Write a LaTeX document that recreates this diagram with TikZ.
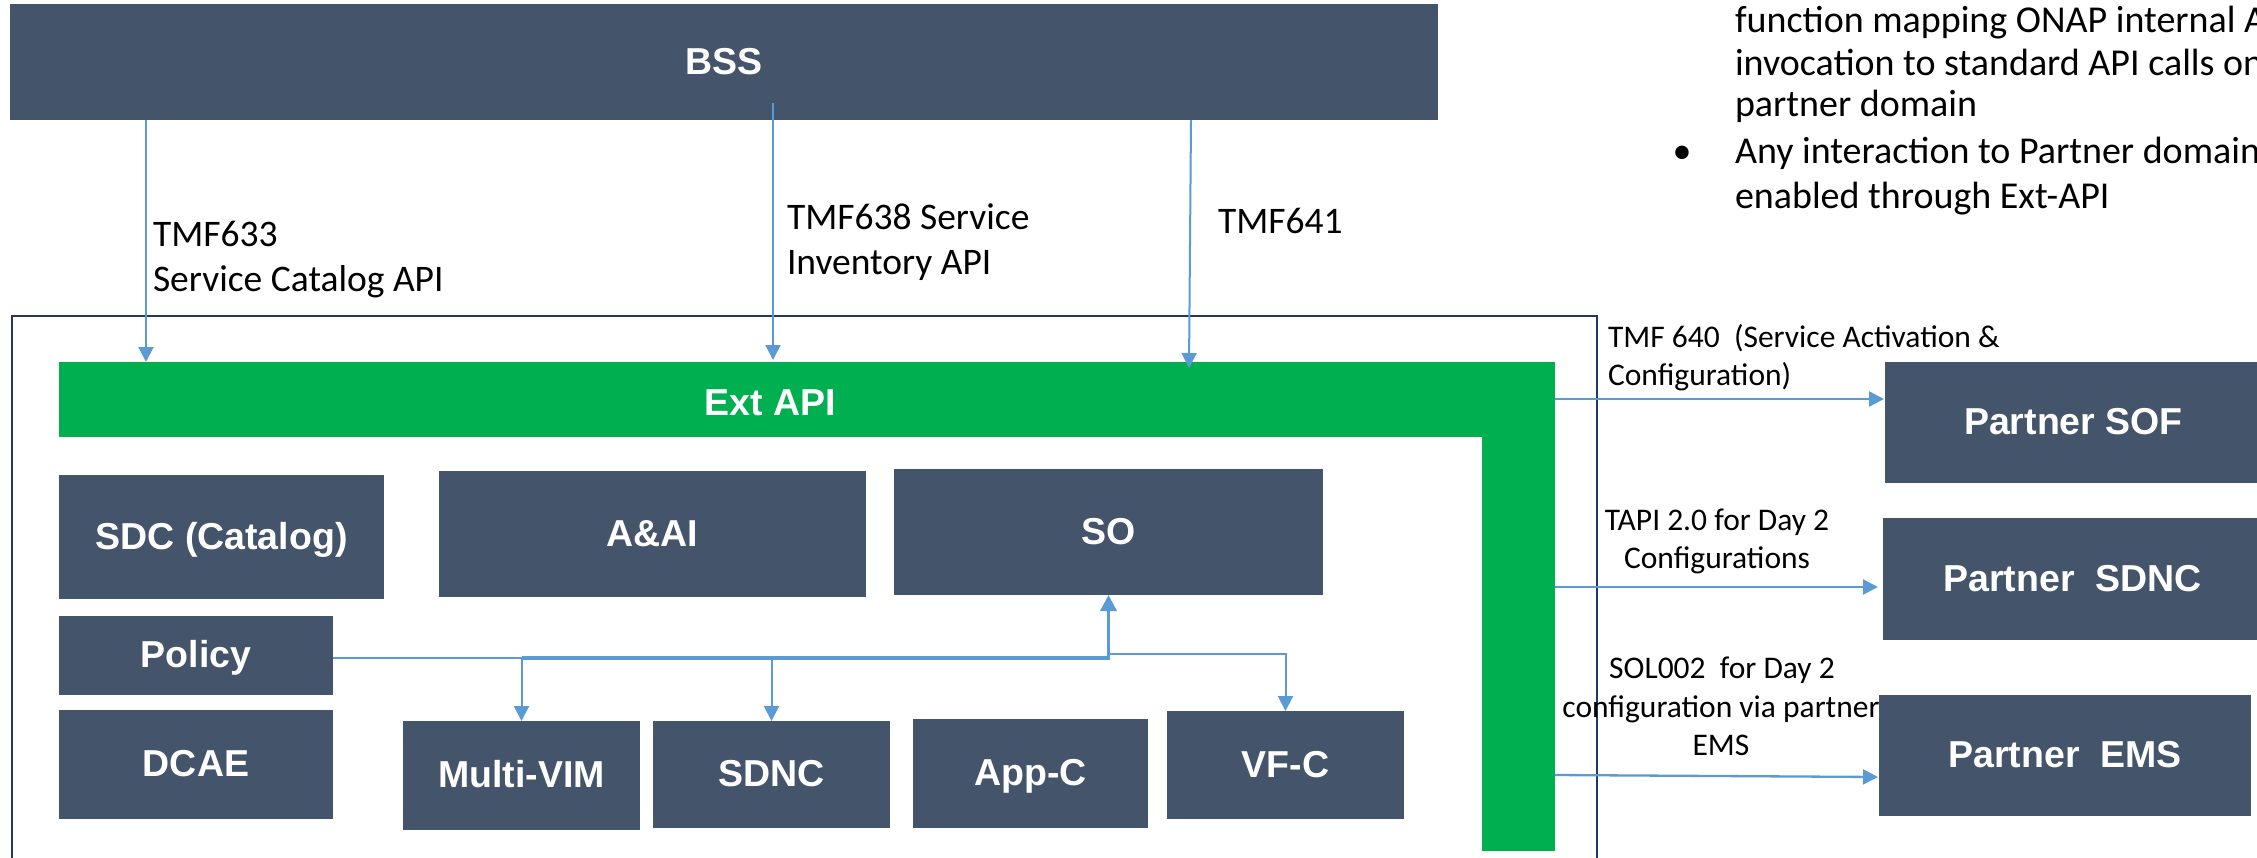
\documentclass[tikz,border=0pt]{standalone}
\usepackage{fontspec}
\setmainfont{Carlito}
\newfontfamily\arialfont{Liberation Sans}
\usetikzlibrary{arrows.meta}
\definecolor{boxc}{HTML}{44546A}
\definecolor{greenc}{HTML}{00B050}
\definecolor{arrc}{HTML}{5B9BD5}
\definecolor{framec}{HTML}{1F3864}
\begin{document}
\begin{tikzpicture}[x=1pt,y=-1pt,
  box/.style={fill=boxc, draw=none, inner sep=0pt, outer sep=0pt, text=white,
    text height=27pt, text depth=3pt,
    font=\arialfont\bfseries\fontsize{37.5}{45}\selectfont},
  gbar/.style={fill=greenc, draw=none, inner sep=0pt, outer sep=0pt},
  conn/.style={draw=arrc, line width=2pt},
  arr/.style={conn, -{Triangle[width=15pt,length=15pt]}},
  lbl/.style={inner sep=0pt, outer sep=0pt, font=\fontsize{37.5}{45}\selectfont},
  slbl/.style={inner sep=0pt, outer sep=0pt, font=\fontsize{31.5}{38}\selectfont},
  note/.style={inner sep=0pt, outer sep=0pt, font=\fontsize{38}{45}\selectfont},
]
\useasboundingbox (0,0) rectangle (2257,857);
\begin{scope}
\clip (0,0) rectangle (2257,857);
\fill[white] (0,0) rectangle (2257,857);

% outer frame
\draw[framec, line width=2pt] (12,880) -- (12,316) -- (1597,316) -- (1597,880);

% BSS
\node[box, minimum width=1428pt, minimum height=116pt] (bss) at (724,62) {BSS};

% Ext API green L
\node[gbar, minimum width=1496pt, minimum height=75pt] (ext) at (807,399.5) {};
\node[gbar, minimum width=73pt, minimum height=489pt] (extv) at (1518.5,606.5) {};
\node[box, fill=none] (extlbl) at (770.5,403) {Ext API};

% inner boxes
\node[box, minimum width=325pt, minimum height=124pt] (sdc) at (221.5,537) {SDC (Catalog)};
\node[box, minimum width=427pt, minimum height=126pt] (aai) at (652.5,534) {A\&AI};
\node[box, minimum width=429pt, minimum height=126pt] (so) at (1108.5,532) {SO};
\node[box, minimum width=274pt, minimum height=79pt] (policy) at (196,655.5) {Policy};
\node[box, minimum width=274pt, minimum height=109pt] (dcae) at (196,764.5) {DCAE};
\node[box, minimum width=237pt, minimum height=109pt] (mvim) at (521.5,775.5) {Multi-VIM};
\node[box, minimum width=237pt, minimum height=107pt] (sdnc) at (771.5,774.5) {SDNC};
\node[box, minimum width=235pt, minimum height=109pt] (appc) at (1030.5,773.5) {App-C};
\node[box, minimum width=237pt, minimum height=108pt] (vfc) at (1285.5,765) {VF-C};

% partner boxes
\node[box, minimum width=377pt, minimum height=121pt] (psof) at (2073.5,422.5) {Partner SOF};
\node[box, minimum width=379pt, minimum height=122pt] (psdnc) at (2072.5,579) {Partner~ SDNC};
\node[box, minimum width=372pt, minimum height=121pt] (pems) at (2065,755.5) {Partner~ EMS};

% BSS -> Ext API arrows
\draw[arr] ([xshift=136pt]bss.south west) -- ([xshift=87pt]ext.north west);
\draw[arr] ([xshift=763pt,yshift=17pt]bss.south west) -- ([xshift=714pt,yshift=2pt]ext.north west);
\draw[arr] ([xshift=1181pt]bss.south west) -- ([xshift=1130pt,yshift=-6pt]ext.north west);

% Ext API -> partners
\draw[arr, line width=2.3pt] ([yshift=-37pt]extv.north east) -- ([xshift=-1pt,yshift=-37pt]psof.north west);
\draw[arr, line width=2.3pt] ([yshift=-225pt]extv.north east) -- ([xshift=-5pt,yshift=-69pt]psdnc.north west);
\draw[arr, line width=2.3pt] ([yshift=-413pt]extv.north east) -- ([xshift=-1pt,yshift=-82pt]pems.north west);

% Policy connectors
\coordinate (pl) at ([yshift=-2.5pt]policy.east);
\draw[conn] (pl) -- (mvim.north |- pl);
\draw[conn, line width=3.5pt, -{Triangle[width=16pt,length=16pt]}] (mvim.north |- pl) -| (so.south);
\draw[arr] (mvim.north |- pl) -- (mvim.north);
\draw[arr] (sdnc.north |- pl) -- (sdnc.north);
\draw[arr] ([yshift=4pt]so.south |- pl) -| (vfc.north);

% top labels
\node[lbl, anchor=base west] (t633a) at (153,246) {TMF633};
\node[lbl, anchor=base west] (t633b) at (153,291) {Service Catalog API};
\node[lbl, anchor=base west] (t638a) at (787,229) {TMF638 Service};
\node[lbl, anchor=base west] (t638b) at (787,274) {Inventory API};
\node[lbl, anchor=base west] (t641) at (1218,233) {TMF641};

% right labels
\node[slbl, anchor=base west] (t640a) at (1608,347) {TMF 640~ (Service Activation \&};
\node[slbl, anchor=base west] (t640b) at (1608,385) {Configuration)};
\node[slbl, anchor=base] (tapia) at (1717,530) {TAPI 2.0 for Day 2};
\node[slbl, anchor=base] (tapib) at (1717,568) {Configurations};
\node[slbl, anchor=base] (sola) at (1722,678) {SOL002~ for Day 2};
\node[slbl, anchor=base] (solb) at (1721,717) {configuration via partner};
\node[slbl, anchor=base] (solc) at (1721,755) {EMS};

% top-right notes
\node[note, anchor=base west] (n1) at (1735,32) {function mapping ONAP internal A};
\node[note, anchor=base west] (n2) at (1735,75) {invocation to standard API calls on};
\node[note, anchor=base west] (n3) at (1735,116) {partner domain};
\node[note, anchor=base] (nb) at (1682,163) {•};
\node[note, anchor=base west] (n4) at (1735,163) {Any interaction to Partner domain};
\node[note, anchor=base west] (n5) at (1735,208) {enabled through Ext-API};
\end{scope}
\end{tikzpicture}
\end{document}
